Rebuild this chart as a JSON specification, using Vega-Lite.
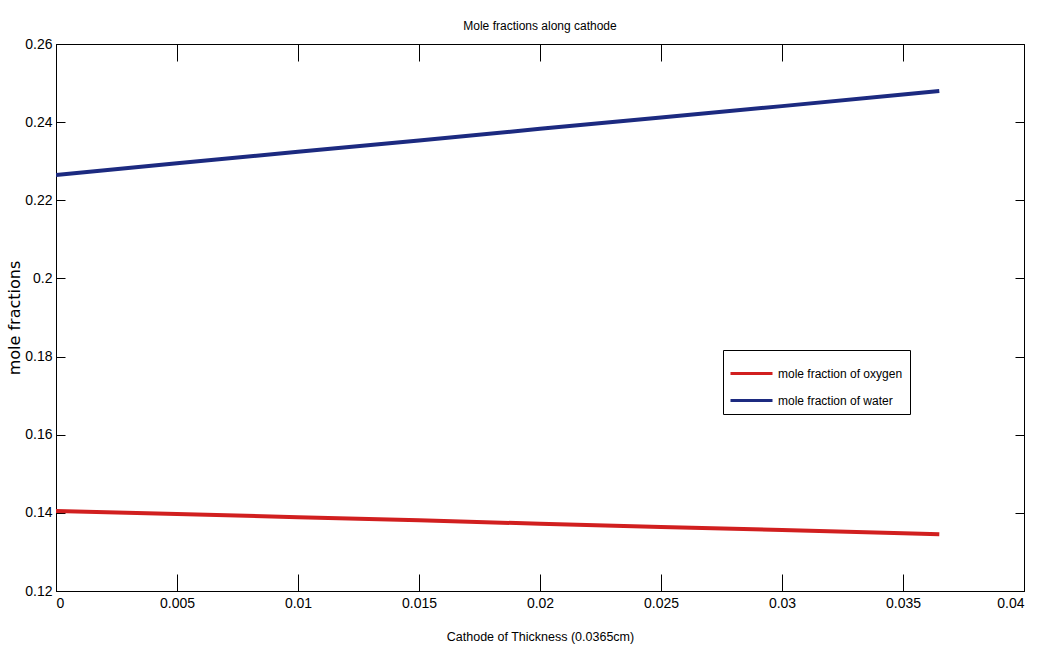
{
  "$schema": "https://vega.github.io/schema/vega-lite/v6.json",
  "width": 968,
  "height": 547,
  "autosize": {"type": "none"},
  "padding": {"left": 56, "top": 44, "right": 22, "bottom": 59},
  "background": "white",
  "config": {
    "view": {"stroke": "black", "strokeWidth": 1},
    "font": "Liberation Sans, sans-serif",
    "axis": {
      "domainColor": "black",
      "tickColor": "black",
      "labelColor": "black",
      "titleColor": "black",
      "grid": false,
      "labelFont": "Liberation Sans, sans-serif",
      "labelFontSize": 14,
      "titleFontWeight": "normal"
    }
  },
  "title": {
    "text": "Mole fractions along cathode",
    "font": "Liberation Sans, sans-serif",
    "fontSize": 12,
    "fontWeight": "normal",
    "color": "black",
    "anchor": "middle",
    "offset": 4
  },
  "data": {
    "values": [
      {"x": 0, "y": 0.1405, "series": "mole fraction of oxygen"},
      {"x": 0.005, "y": 0.1397, "series": "mole fraction of oxygen"},
      {"x": 0.01, "y": 0.1389, "series": "mole fraction of oxygen"},
      {"x": 0.015, "y": 0.1381, "series": "mole fraction of oxygen"},
      {"x": 0.02, "y": 0.1372, "series": "mole fraction of oxygen"},
      {"x": 0.025, "y": 0.1364, "series": "mole fraction of oxygen"},
      {"x": 0.03, "y": 0.1356, "series": "mole fraction of oxygen"},
      {"x": 0.035, "y": 0.1348, "series": "mole fraction of oxygen"},
      {"x": 0.0365, "y": 0.1345, "series": "mole fraction of oxygen"},
      {"x": 0, "y": 0.2265, "series": "mole fraction of water"},
      {"x": 0.005, "y": 0.2295, "series": "mole fraction of water"},
      {"x": 0.01, "y": 0.2324, "series": "mole fraction of water"},
      {"x": 0.015, "y": 0.2353, "series": "mole fraction of water"},
      {"x": 0.02, "y": 0.2383, "series": "mole fraction of water"},
      {"x": 0.025, "y": 0.2412, "series": "mole fraction of water"},
      {"x": 0.03, "y": 0.2441, "series": "mole fraction of water"},
      {"x": 0.035, "y": 0.2471, "series": "mole fraction of water"},
      {"x": 0.0365, "y": 0.248, "series": "mole fraction of water"}
    ]
  },
  "layer": [
    {
      "mark": {"type": "line", "strokeWidth": 4, "clip": true},
      "encoding": {
        "x": {
          "field": "x", "type": "quantitative",
          "scale": {"domain": [0, 0.04], "nice": false, "zero": false},
          "axis": {
            "orient": "bottom",
            "values": [0, 0.005, 0.01, 0.015, 0.02, 0.025, 0.03, 0.035, 0.04],
            "format": "~g",
            "tickSize": -17,
            "labelPadding": 22,
            "title": "Cathode of Thickness (0.0365cm)",
            "titleFont": "Liberation Sans, sans-serif",
            "titleFontSize": 12.5,
            "titlePadding": 20
          }
        },
        "y": {
          "field": "y", "type": "quantitative",
          "scale": {"domain": [0.12, 0.26], "nice": false, "zero": false},
          "axis": {
            "orient": "left",
            "values": [0.12, 0.14, 0.16, 0.18, 0.2, 0.22, 0.24, 0.26],
            "format": "~g",
            "tickSize": -9,
            "labelPadding": 13,
            "title": "mole fractions",
            "titleFont": "DejaVu Sans, sans-serif",
            "titleFontSize": 16,
            "titlePadding": 2
          }
        },
        "color": {
          "field": "series", "type": "nominal",
          "scale": {
            "domain": ["mole fraction of oxygen", "mole fraction of water"],
            "range": ["#d11f1f", "#1c2a80"]
          },
          "legend": {
            "orient": "none",
            "legendX": 667,
            "legendY": 306,
            "title": null,
            "symbolType": "M-1.4,0H1.4",
            "symbolSize": 900,
            "symbolStrokeWidth": 3,
            "symbolOffset": 5,
            "labelFont": "Liberation Sans, sans-serif",
            "labelFontSize": 12,
            "labelColor": "black",
            "labelOffset": 10,
            "rowPadding": 4,
            "padding": 7,
            "strokeColor": "black",
            "fillColor": "white",
            "labelLimit": 300
          }
        }
      }
    },
    {
      "mark": {"type": "point", "opacity": 0},
      "encoding": {
        "x": {
          "field": "x", "type": "quantitative",
          "axis": {
            "orient": "top",
            "values": [0, 0.005, 0.01, 0.015, 0.02, 0.025, 0.03, 0.035, 0.04],
            "labels": false, "domain": false,
            "tickSize": -17, "title": null
          }
        },
        "y": {
          "field": "y", "type": "quantitative",
          "axis": {
            "orient": "right",
            "values": [0.12, 0.14, 0.16, 0.18, 0.2, 0.22, 0.24, 0.26],
            "labels": false, "domain": false,
            "tickSize": -9, "title": null
          }
        }
      }
    }
  ],
  "resolve": {"axis": {"x": "independent", "y": "independent"}}
}
